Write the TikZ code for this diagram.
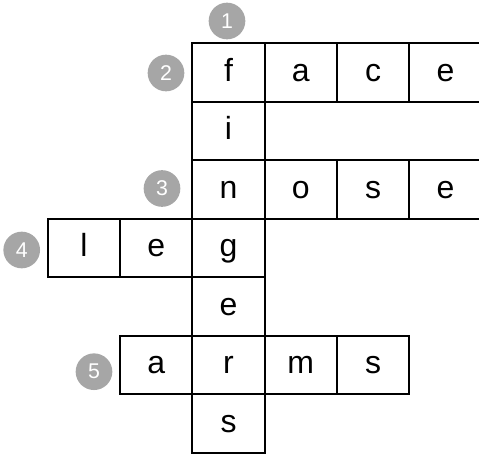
\documentclass[tikz,border=0pt]{standalone}
\usepackage{fontspec}
\setmainfont{Liberation Sans}
\usepackage{tikz}
\usetikzlibrary{positioning}
\definecolor{numGris}{HTML}{A6A6A6}

\begin{document}
\begin{tikzpicture}[x=0.75pt, y=-0.75pt,
      celda/.style={rectangle, draw=black, line width=1.5pt, inner sep=0pt,
                    minimum width=54.2pt, minimum height=43.9pt,
                    text height=17.5pt, text depth=4.5pt, font=\fontsize{24}{28}\selectfont},
      numero/.style={circle, fill=numGris, inner sep=0pt, minimum size=27.5pt,
                     text=white, font=\fontsize{16}{19}\selectfont}
    ]
    \useasboundingbox (0,0) rectangle (479,456);
    % 1 abajo: fingers
    \node[celda] (f1) at (228.5,72.5) {f};
    \node[celda] (i1) at (228.5,131) {i};
    \node[celda] (n1) at (228.5,189.5) {n};
    \node[celda] (g1) at (228.5,248) {g};
    \node[celda] (e1) at (228.5,306.5) {e};
    \node[celda] (r1) at (228.5,365) {r};
    \node[celda] (s1) at (228.5,423.5) {s};
    % 2 horizontal: face
    \node[celda] (a2) at (300.8,72.5) {a};
    \node[celda] (c2) at (373.1,72.5) {c};
    \node[celda] (e2) at (445.4,72.5) {e};
    % 3 horizontal: nose
    \node[celda] (o3) at (300.8,189.5) {o};
    \node[celda] (s3) at (373.1,189.5) {s};
    \node[celda] (e3) at (445.4,189.5) {e};
    % 4 horizontal: leg
    \node[celda] (l4) at (83.9,248) {l};
    \node[celda] (e4) at (156.2,248) {e};
    % 5 horizontal: arms
    \node[celda] (a5) at (156.2,365) {a};
    \node[celda] (m5) at (300.8,365) {m};
    \node[celda] (s5) at (373.1,365) {s};
    % numeros
    \node[numero] (num1) at (227,21) {1};
    \node[numero] (num2) at (166,73) {2};
    \node[numero] (num3) at (162,188.5) {3};
    \node[numero] (num4) at (21.7,250) {4};
    \node[numero] (num5) at (94,371.7) {5};
  \end{tikzpicture}
\end{document}
